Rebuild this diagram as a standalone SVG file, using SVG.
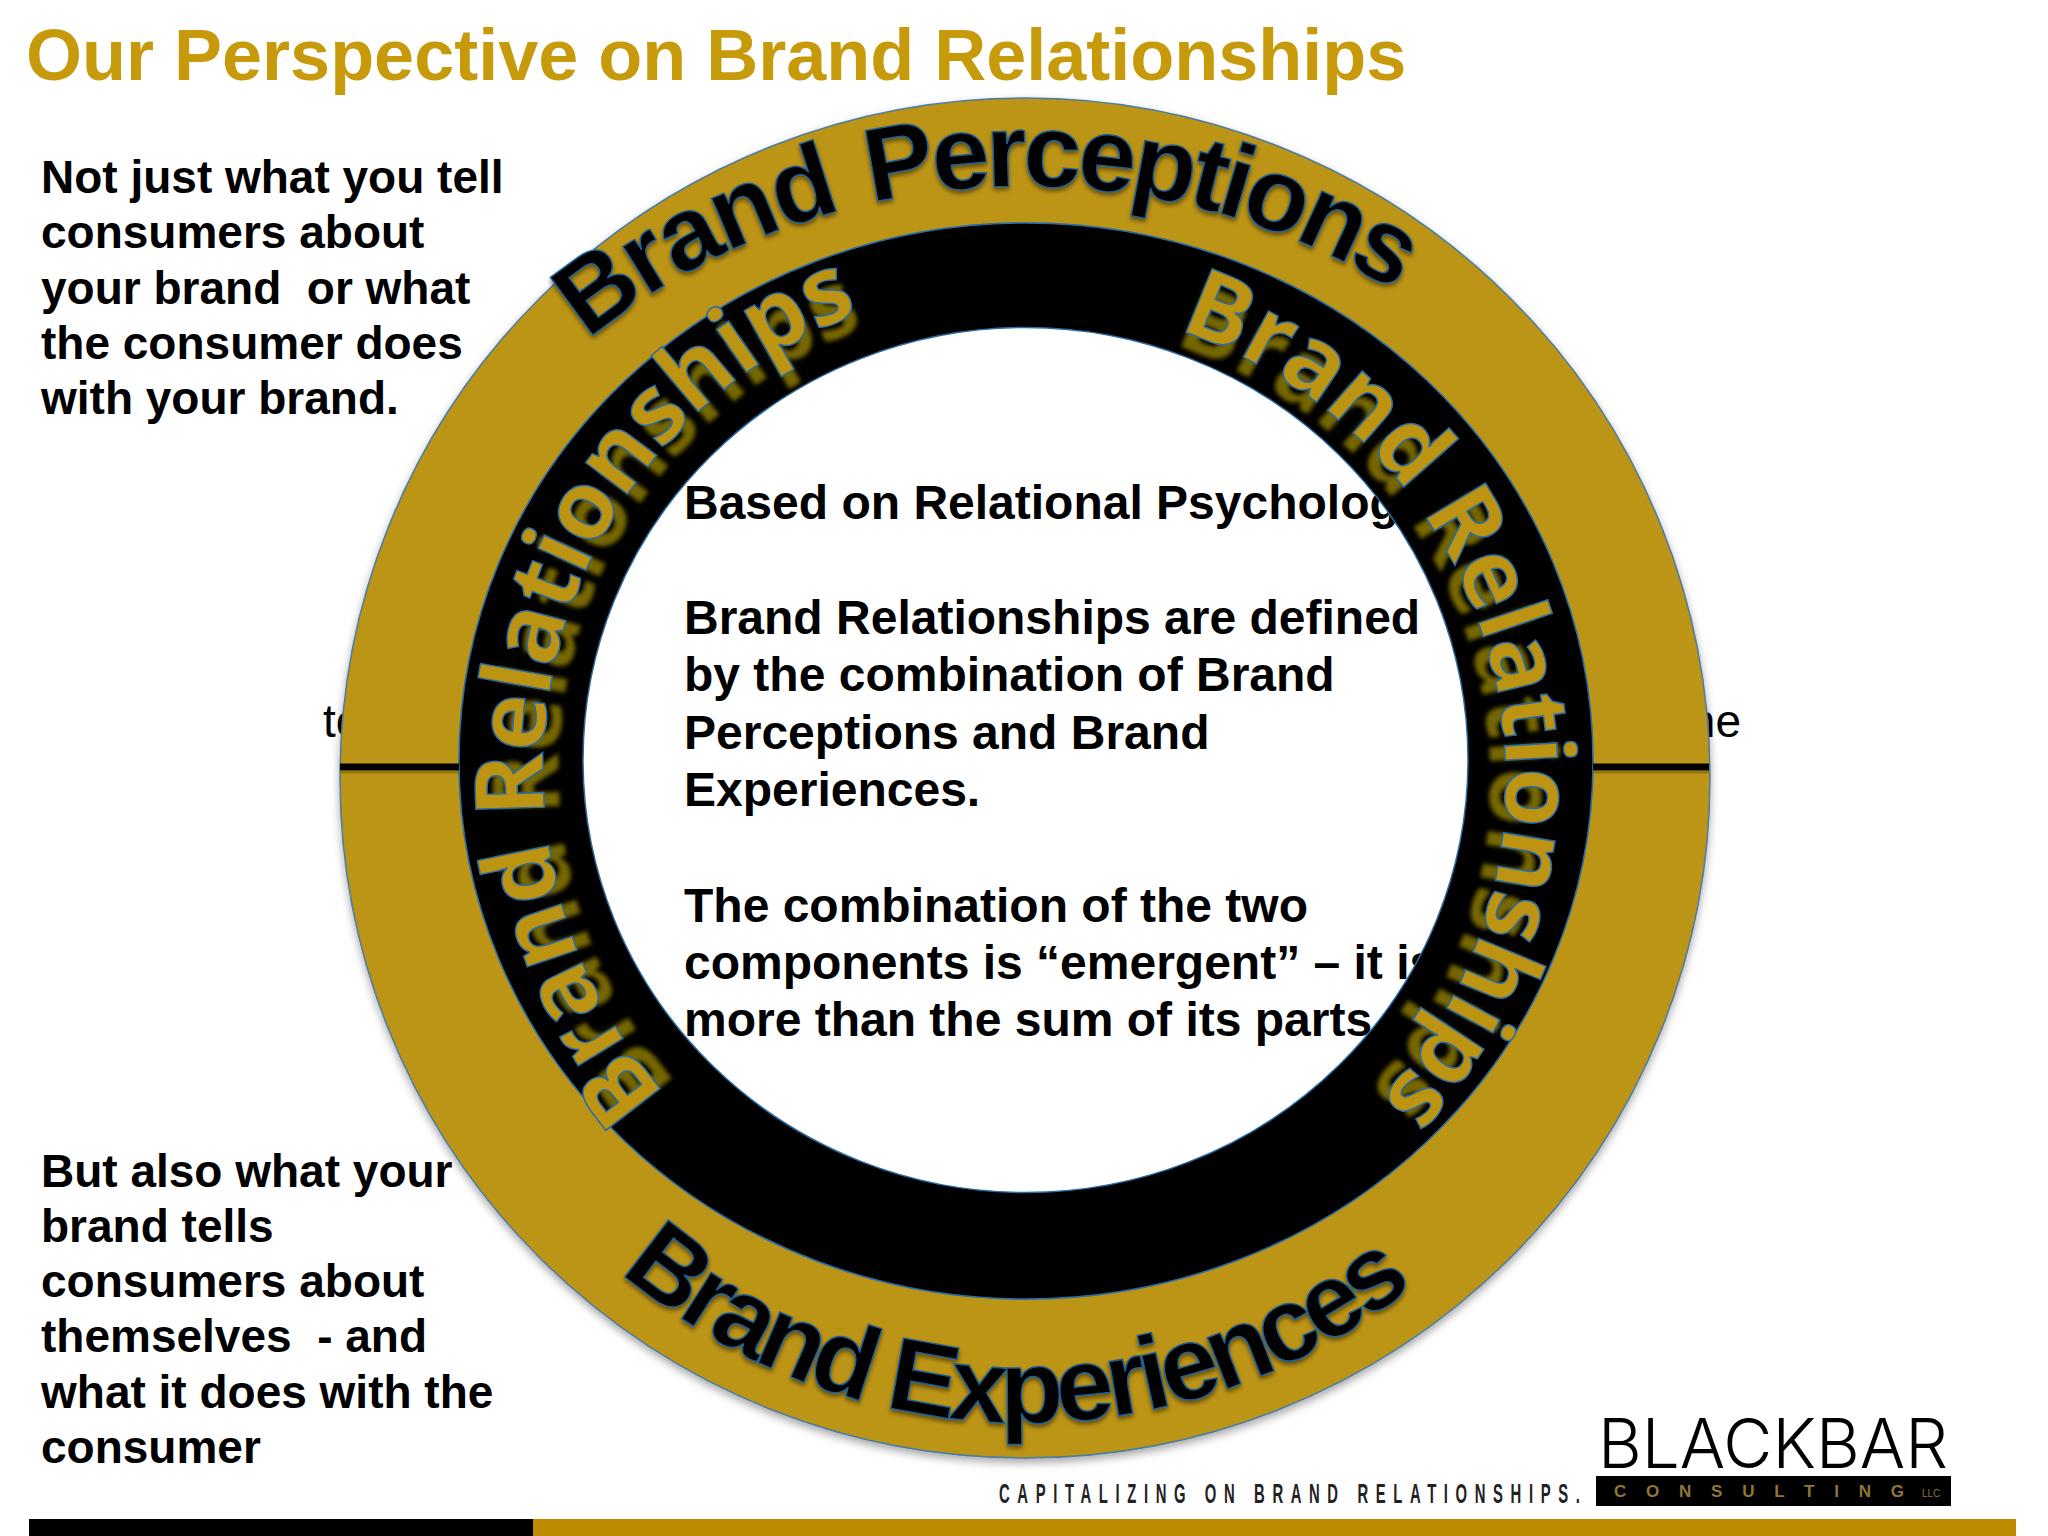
<svg xmlns="http://www.w3.org/2000/svg" xmlns:xlink="http://www.w3.org/1999/xlink" width="2048" height="1536" viewBox="0 0 2048 1536">
<style>
text{font-family:"Liberation Sans",Arial,sans-serif}
.body{font-weight:700;font-size:46px;fill:#000}
.center{font-weight:700;font-size:48px;fill:#000}
.side{font-size:46px;fill:#000}
.title{font-weight:700;font-size:72px;fill:#c79a0c}
.outerarc{font-weight:700;font-size:104px;fill:#000;stroke:#1f5f94;stroke-width:1.5;letter-spacing:-3px}
.tight{letter-spacing:-5px}
.innerarc{font-family:"Open Sans","Noto Sans",sans-serif;font-weight:700;font-size:96px;letter-spacing:-1px}
.gold{fill:#bc9412;stroke:#2a6ca5;stroke-width:1.5}
.shade{fill:#756600}
.logotype{font-family:Inter,Roboto,sans-serif;font-weight:300;font-size:69px;fill:#000}
</style>
<defs>
<filter id="soft" x="-10%" y="-10%" width="120%" height="120%"><feGaussianBlur stdDeviation="2"/></filter>
<filter id="ringshadow" x="-5%" y="-5%" width="110%" height="110%"><feDropShadow dx="0" dy="4" stdDeviation="4" flood-color="#000" flood-opacity="0.35"/></filter>
<filter id="lettershadow" x="-5%" y="-5%" width="110%" height="110%"><feDropShadow dx="0" dy="3" stdDeviation="2" flood-color="#000" flood-opacity="0.45"/></filter>
<path id="arcTop" d="M588 340A650 592 0 0 1 1525 400"/>
<path id="arcBottom" d="M620 1272A630 645 0 0 0 1525 1170"/>
<path id="arcRight" d="M1178 330A482 475 0 0 1 1025 1255"/>
<path id="arcLeft" d="M670 1099A482 487 0 0 1 1025 283"/>
</defs>
<rect width="2048" height="1536" fill="#fff"/>
<g id="title"><text class="title" x="26" y="80">Our Perspective on Brand Relationships</text></g>
<g id="side-fragments">
<text class="side" x="323" y="737">to</text>
<text class="side" x="1741" y="737" text-anchor="end">he</text>
</g>
<g id="center-text" class="center">
<text x="684" y="519">Based on Relational Psychology</text>
<text x="684" y="634">Brand Relationships are defined</text>
<text x="684" y="691">by the combination of Brand</text>
<text x="684" y="749">Perceptions and Brand</text>
<text x="684" y="806">Experiences.</text>
<text x="684" y="922">The combination of the two</text>
<text x="684" y="979">components is “emergent” – it is</text>
<text x="684" y="1036">more than the sum of its parts</text>
</g>
<g id="outer-ring">
<path filter="url(#ringshadow)" fill="#bc9412" stroke="#4a7ba6" stroke-width="1.5" fill-rule="evenodd" d="M340 778A685 680 0 1 1 1710 778A685 680 0 1 1 340 778ZM459 761A567 538 0 1 0 1593 761A567 538 0 1 0 459 761Z"/>
</g>
<g id="inner-ring">
<path fill="#000" stroke="#2a6ca5" stroke-width="1.5" fill-rule="evenodd" d="M459 761A567 538 0 1 1 1593 761A567 538 0 1 1 459 761ZM583 760A442 432 0 1 0 1468 760A442 432 0 1 0 583 760Z"/>
</g>
<g id="connectors">
<path d="M340 767H459M1593 767H1709" stroke="#000" stroke-width="7" fill="none"/>
<path d="M340 772H459M1593 772H1709" stroke="#7a6008" stroke-width="3" opacity=".6" fill="none"/>
</g>
<g id="brand-perceptions" filter="url(#lettershadow)"><text class="outerarc"><textPath xlink:href="#arcTop" href="#arcTop">Brand <tspan dx="6" class="tight">Perceptions</tspan></textPath></text></g>
<g id="brand-experiences" filter="url(#lettershadow)"><text class="outerarc tight"><textPath xlink:href="#arcBottom" href="#arcBottom">Brand Experiences</textPath></text></g>
<g id="brand-relationships-right">
<g transform="translate(1025 780) scale(.968) translate(-1025 -780)" filter="url(#soft)"><text class="innerarc shade"><textPath xlink:href="#arcRight" href="#arcRight">Brand Relationships</textPath></text></g>
<text class="innerarc gold"><textPath xlink:href="#arcRight" href="#arcRight">Brand Relationships</textPath></text>
</g>
<g id="brand-relationships-left">
<g transform="translate(1025 770) scale(.968) translate(-1025 -770)" filter="url(#soft)"><text class="innerarc shade"><textPath xlink:href="#arcLeft" href="#arcLeft" startOffset="6">Brand Relationships</textPath></text></g>
<text class="innerarc gold"><textPath xlink:href="#arcLeft" href="#arcLeft" startOffset="6">Brand Relationships</textPath></text>
</g>
<g id="note-top" class="body">
<text x="41" y="193">Not just what you tell</text>
<text x="41" y="248">consumers about</text>
<text x="41" y="304" xml:space="preserve">your brand  or what</text>
<text x="41" y="359">the consumer does</text>
<text x="41" y="414">with your brand.</text>
</g>
<g id="note-bottom" class="body">
<text x="41" y="1187">But also what your</text>
<text x="41" y="1242">brand tells</text>
<text x="41" y="1297">consumers about</text>
<text x="41" y="1352" xml:space="preserve">themselves  - and</text>
<text x="41" y="1408">what it does with the</text>
<text x="41" y="1463">consumer</text>
</g>
<g id="logo">
<text class="logotype" x="1598" y="1468" textLength="350" lengthAdjust="spacingAndGlyphs">BLACKBAR</text>
<rect x="1596" y="1476" width="355" height="30" fill="#000"/>
<text x="1614" y="1497" font-size="17" font-weight="700" fill="#8f7636" textLength="290">C O N S U L T I N G</text>
<text x="1922" y="1497" font-size="10" fill="#8f7636">LLC</text>
<text transform="translate(999 1503) scale(.55 1)" font-size="27" font-weight="700" fill="#222" textLength="1056" lengthAdjust="spacing">CAPITALIZING ON BRAND RELATIONSHIPS.</text>
</g>
<g id="footer-bar">
<rect x="29" y="1519" width="504" height="17" fill="#000"/>
<rect x="533" y="1519" width="1483" height="17" fill="#bd8a00"/>
</g>
</svg>
